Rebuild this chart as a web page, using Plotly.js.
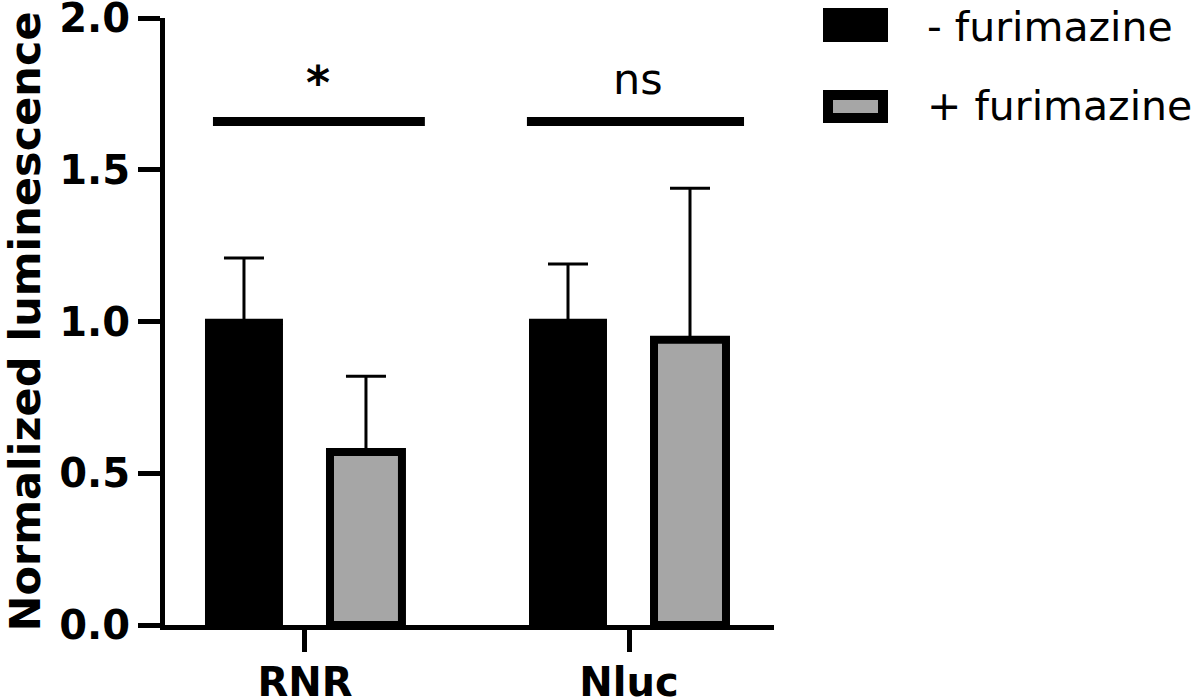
<!DOCTYPE html>
<html>
<head>
<meta charset="utf-8">
<script src="https://cdn.plot.ly/plotly-3.0.1.min.js"></script>
<style>
  html, body { margin: 0; padding: 0; background: #fff; }
  #chart { width: 1200px; height: 700px; }
</style>
</head>
<body>
<div id="chart"></div>
<script>
// groups on the x axis
let categories = ['RNR', 'Nluc'];

// - furimazine
let minusMean = [1.0, 1.0];
let minusErr = [0.21, 0.19];

// + furimazine
let plusMean = [0.57, 0.94];
let plusErr = [0.25, 0.50];

let seriesNames = ['- furimazine', '+ furimazine'];
let sigLabels = ['*', 'ns'];
let sigLevel = 1.66;

let yTicks = [0, 0.5, 1.0, 1.5, 2.0];

let fontFam = 'DejaVu Sans, Arial, sans-serif';
let grey = '#a6a6a6';

// plot box in pixels
let mL = 165, mR = 426, mT = 18, mB = 75;
let plotW = 1200 - mL - mR, plotH = 700 - mT - mB;
function px(x) { return (x - mL) / plotW; }
function py(y) { return (700 - mB - y) / plotH; }

let minusTrace = {
  x: categories,
  y: minusMean,
  name: seriesNames[0],
  type: 'bar',
  marker: {color: '#000', line: {color: '#000', width: 6}},
  error_y: {type: 'data', symmetric: false, array: minusErr, arrayminus: [0, 0],
            color: '#000', thickness: 3, width: 20},
  showlegend: false
};

let plusTrace = {
  x: categories,
  y: plusMean,
  name: seriesNames[1],
  type: 'bar',
  marker: {color: grey, line: {color: '#000', width: 8}},
  error_y: {type: 'data', symmetric: false, array: plusErr, arrayminus: [0, 0],
            color: '#000', thickness: 3, width: 20},
  showlegend: false
};

// significance bars over each group
let sigSpans = [[-0.284, 0.37], [-0.315, 0.355]];
let shapes = sigSpans.map((s, i) => ({
  type: 'line', xref: 'x', yref: 'y',
  x0: i + s[0], x1: i + s[1], y0: sigLevel, y1: sigLevel,
  line: {color: '#000', width: 9}
}));

let sigShift = [[0.04, 0.03], [0.028, 0.05]];
let annotations = sigLabels.map((t, i) => ({
  x: i + sigShift[i][0], y: sigLevel + sigShift[i][1],
  xref: 'x', yref: 'y',
  text: t, showarrow: false,
  xanchor: 'center', yanchor: 'bottom',
  font: {family: fontFam, size: i === 0 ? 46 : 43, color: '#000', weight: i === 0 ? 'bold' : 'normal'}
}));

// legend drawn by hand so the swatches match the reference size
shapes.push({
  type: 'rect', xref: 'paper', yref: 'paper',
  x0: px(823), x1: px(888), y0: py(42), y1: py(8),
  fillcolor: '#000', line: {width: 0}
});
shapes.push({
  type: 'rect', xref: 'paper', yref: 'paper',
  x0: px(828), x1: px(883), y0: py(118), y1: py(95),
  fillcolor: grey, line: {color: '#000', width: 10}
});
[27, 106].forEach((yy, i) => {
  annotations.push({
    x: px(925), y: py(yy), xref: 'paper', yref: 'paper',
    text: seriesNames[i], showarrow: false,
    xanchor: 'left', yanchor: 'middle',
    font: {family: fontFam, size: 41, color: '#000'}
  });
});

let layout = {
  width: 1200,
  height: 700,
  margin: {l: mL, r: mR, t: mT, b: mB},
  paper_bgcolor: '#fff',
  plot_bgcolor: '#fff',
  barmode: 'group',
  bargap: 0.247,
  bargroupgap: 0.41,
  showlegend: false,
  xaxis: {
    type: 'category',
    range: [-0.432, 1.4475],
    showgrid: false, zeroline: false,
    showline: true, linecolor: '#000', linewidth: 5,
    ticks: 'outside', ticklen: 22, tickwidth: 5, tickcolor: '#000',
    ticklabelstandoff: -4,
    tickfont: {family: fontFam, size: 40, color: '#000', weight: 'bold'}
  },
  yaxis: {
    range: [0, 2.001],
    tickvals: yTicks,
    tickformat: '.1f',
    ticklabeloverflow: 'allow',
    showgrid: false, zeroline: false,
    showline: true, linecolor: '#000', linewidth: 5,
    ticks: 'outside', ticklen: 22, tickwidth: 5, tickcolor: '#000',
    tickfont: {family: fontFam, size: 40, color: '#000', weight: 'bold'},
    title: {text: 'Normalized luminescence', standoff: 12,
            font: {family: fontFam, size: 43, color: '#000', weight: 'bold'}}
  },
  shapes: shapes,
  annotations: annotations
};

Plotly.newPlot('chart', [minusTrace, plusTrace], layout, {displayModeBar: false, staticPlot: true});
</script>
</body>
</html>
